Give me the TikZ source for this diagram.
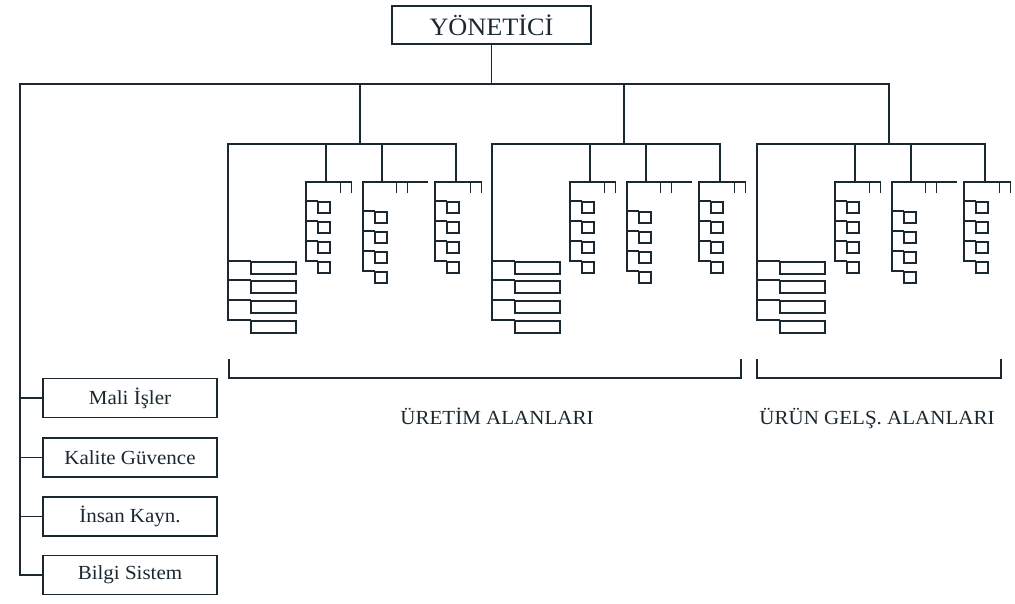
\documentclass[tikz,border=0pt]{standalone}
\usepackage{fontspec}
\setmainfont{Liberation Serif}
\newfontfamily\wideserif[FakeStretch=1.05]{Liberation Serif}
\definecolor{ink}{RGB}{28,40,48}
\begin{document}
\begin{tikzpicture}[x=1pt,y=-1pt,line width=1.8pt,line cap=rect,color=ink,
  topbox/.style={draw=ink,line width=1.8pt,inner sep=0pt,minimum width=199pt,minimum height=38pt,text=ink,font=\wideserif\fontsize{25}{25}\selectfont},
  sidebox/.style={draw=ink,line width=1.8pt,inner sep=0pt,minimum width=174pt,minimum height=39pt,text=ink,font=\wideserif\fontsize{20}{20}\selectfont},
  smallbox/.style={draw=ink,line width=1.8pt,inner sep=0pt,minimum width=12pt,minimum height=11pt,anchor=north west},
  widebox/.style={draw=ink,line width=1.8pt,inner sep=0pt,minimum width=45pt,minimum height=12pt,anchor=north west},
  lbl/.style={text=ink,inner sep=0pt,anchor=base,font=\wideserif\fontsize{20}{20}\selectfont}]
\useasboundingbox (0,0) rectangle (1015,603);
% top
\node[topbox] (yon) at (491.5,25) {YÖNETİCİ};
\coordinate (mbL) at (20,84);
\coordinate (mbC) at (491.5,84);
\coordinate (mbR) at (889,84);
\draw (yon.south) -- (mbC);
\draw (mbL) -- (mbR);
% side boxes
\foreach \i/\t/\yy in {1/Mali İşler/398,2/Kalite Güvence/457.5,3/İnsan Kayn./516.5,4/Bilgi Sistem/575}{
  \node[sidebox] (s\i) at (130,\yy) {\t};
  \coordinate (sj\i) at (20,\yy);
  \draw (sj\i) -- (s\i.west);
}
\draw (mbL) -- (sj4);
% groups
\foreach \g/\L in {1/228,2/492,3/757}{
  \coordinate (g\g top) at (\L+132,84);
  \coordinate (g\g c) at (\L+132,144);
  \coordinate (g\g l) at (\L,144);
  \coordinate (g\g r) at (\L+228,144);
  \draw (g\g top) -- (g\g c);
  \draw (g\g l) -- (g\g r);
  \foreach \k/\tp in {1/261,2/280,3/300,4/320}{
    \node[widebox] (g\g w\k) at (\L+22,\tp) {};
    \coordinate (g\g wj\k) at (\L,\tp);
    \draw (g\g wj\k) -- (g\g w\k.north west);
  }
  \draw (g\g l) -- (g\g wj4);
  \foreach \u/\d/\v/\e/\off in {1/98/78/25.5/0,2/154/135/45/10,3/228/207/25.5/0}{
    \coordinate (g\g u\u a) at (\L+\d,144);
    \coordinate (g\g u\u b) at (\L+\d,182);
    \draw (g\g u\u a) -- (g\g u\u b);
    \coordinate (g\g u\u h0) at (\L+\v,182);
    \coordinate (g\g u\u h1) at (\L+\d+\e,182);
    \draw (g\g u\u h0) -- (g\g u\u h1);
    \foreach \n/\t in {1/14.5,2/25.5}{
      \coordinate (g\g u\u ta\n) at (\L+\d+\t,182);
      \coordinate (g\g u\u tb\n) at (\L+\d+\t,192);
      \draw (g\g u\u ta\n) -- (g\g u\u tb\n);
    }
    \foreach \k in {0,...,3}{
      \pgfmathsetmacro{\tp}{201+\off+20*\k}
      \node[smallbox] (g\g u\u s\k) at (\L+\v+11,\tp) {};
      \coordinate (g\g u\u j\k) at (\L+\v,\tp);
      \draw (g\g u\u j\k) -- (g\g u\u s\k.north west);
    }
    \draw (g\g u\u h0) -- (g\g u\u j3);
  }
}
% brackets
\coordinate (b1a) at (229,360);
\coordinate (b1b) at (229,378);
\coordinate (b1c) at (741,378);
\coordinate (b1d) at (741,360);
\draw[line width=1.5pt] (b1a) -- (b1b) -- (b1c) -- (b1d);
\coordinate (b2a) at (757,360);
\coordinate (b2b) at (757,378);
\coordinate (b2c) at (1001,378);
\coordinate (b2d) at (1001,360);
\draw[line width=1.5pt] (b2a) -- (b2b) -- (b2c) -- (b2d);
\node[lbl] (lab1) at (497,424) {ÜRETİM ALANLARI};
\node[lbl] (lab2) at (877,424) {ÜRÜN GELŞ. ALANLARI};
\end{tikzpicture}
\end{document}
